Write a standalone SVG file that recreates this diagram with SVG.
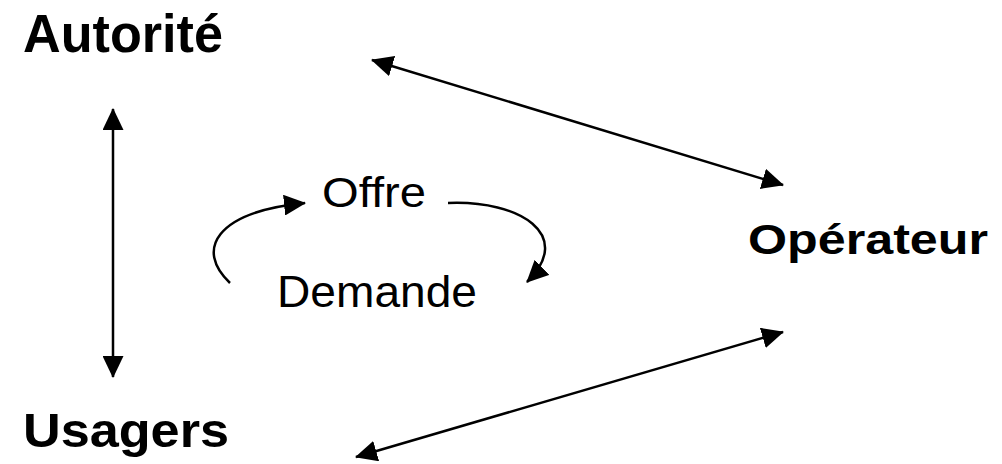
<svg xmlns="http://www.w3.org/2000/svg" width="1002" height="464" viewBox="0 0 1002 464">
<style>
.b{font-family:"Liberation Sans",Arial,sans-serif;font-weight:bold;fill:#000}
.r{font-family:"Liberation Sans",Arial,sans-serif;fill:#000}
.c{fill:none;stroke:#000;stroke-width:2.5}
</style>
<defs>
<marker id="ah" markerUnits="userSpaceOnUse" markerWidth="22" markerHeight="21" refX="21" refY="10.5" orient="auto-start-reverse" viewBox="0 0 22 21">
<path d="M0,0 L22,10.5 L0,21 z" fill="#000"/>
</marker>
</defs>
<rect width="1002" height="464" fill="#fff"/>
<g id="autorite"><text class="b" x="23" y="51.5" font-size="53" textLength="200" lengthAdjust="spacingAndGlyphs">Autorité</text></g>
<g id="usagers"><text class="b" x="23" y="446.5" font-size="49" textLength="206" lengthAdjust="spacingAndGlyphs">Usagers</text></g>
<g id="operateur"><text class="b" x="748" y="254" font-size="42" textLength="240" lengthAdjust="spacingAndGlyphs">Opérateur</text></g>
<g id="offre"><text class="r" x="322" y="206.5" font-size="43" textLength="104" lengthAdjust="spacingAndGlyphs">Offre</text></g>
<g id="demande"><text class="r" x="277" y="307" font-size="44" textLength="200" lengthAdjust="spacingAndGlyphs">Demande</text></g>
<g id="connectors">
<line class="c" x1="113" y1="109" x2="113" y2="377" marker-start="url(#ah)" marker-end="url(#ah)"/>
<line class="c" x1="372" y1="60" x2="783" y2="185" marker-start="url(#ah)" marker-end="url(#ah)"/>
<line class="c" x1="783" y1="332" x2="356" y2="457" marker-start="url(#ah)" marker-end="url(#ah)"/>
<path class="c" d="M230,283 C195,250 215,212 305,203" marker-end="url(#ah)"/>
<path class="c" d="M448,203 C520,200 575,235 527,282" marker-end="url(#ah)"/>
</g>
</svg>
